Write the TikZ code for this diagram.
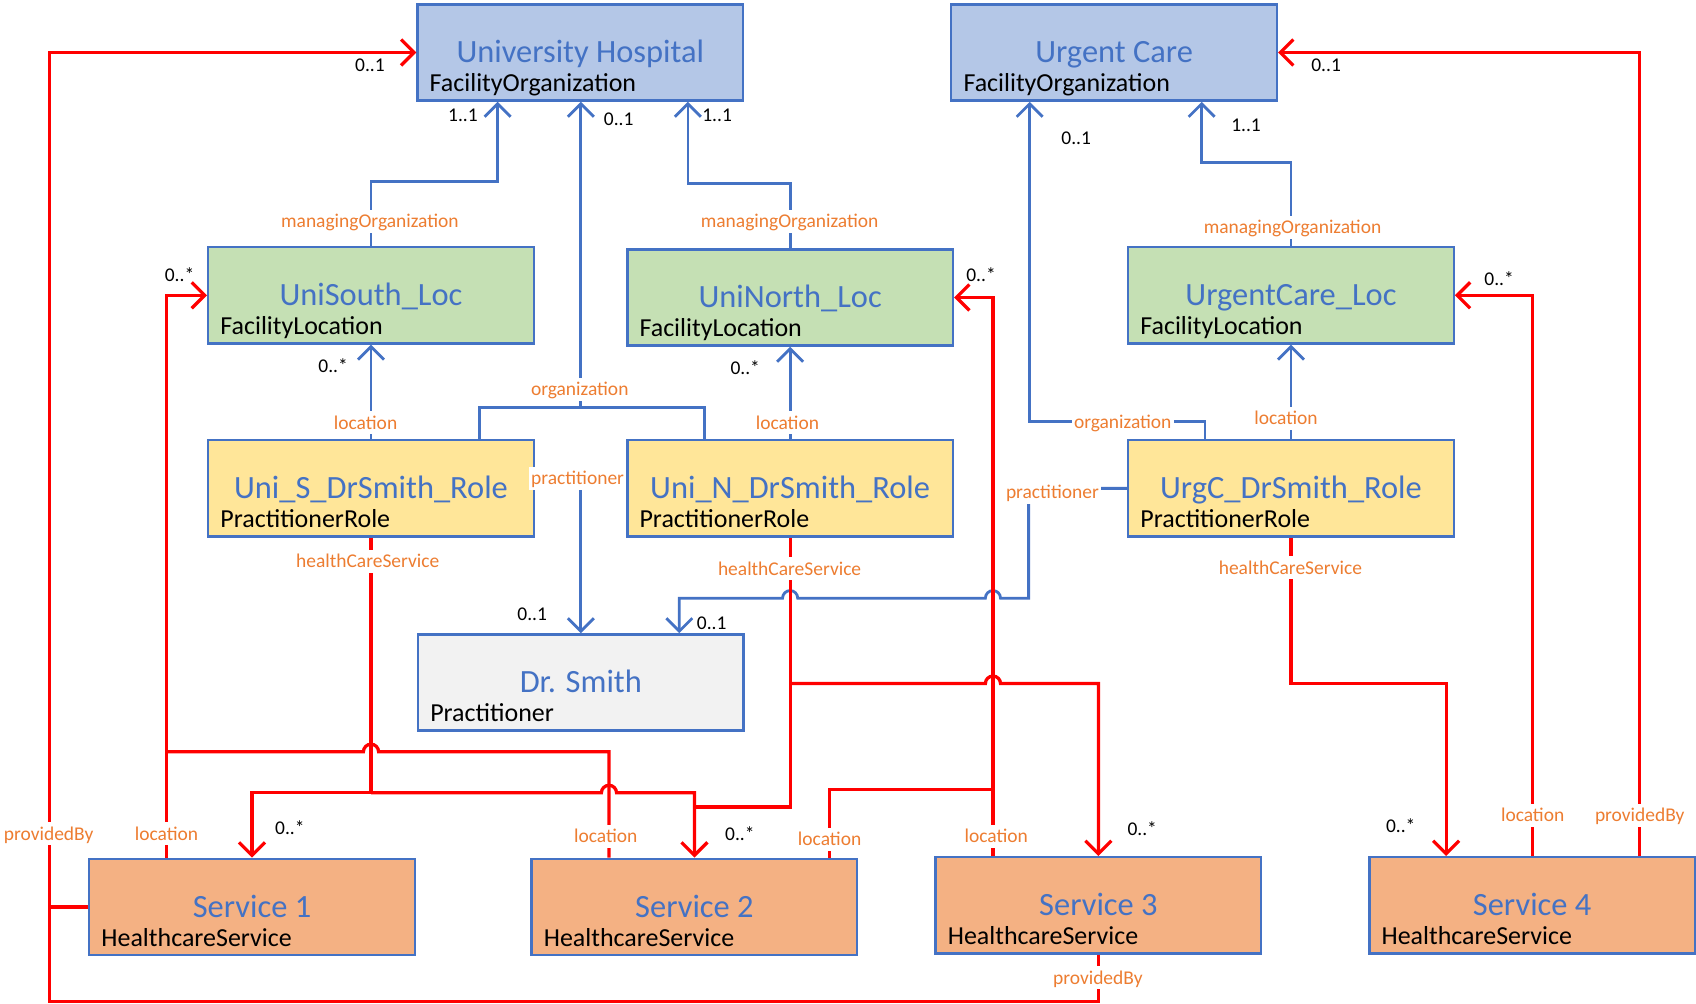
\documentclass[tikz,border=0pt]{standalone}
\usepackage{fontspec}
\setmainfont{Carlito}
\usetikzlibrary{arrows.meta}
\definecolor{cBlue}{HTML}{4472C4}
\definecolor{cOrg}{HTML}{ED7D31}
\definecolor{fOrgz}{HTML}{B4C7E7}
\definecolor{fLoc}{HTML}{C5E0B4}
\definecolor{fRole}{HTML}{FFE699}
\definecolor{fPrac}{HTML}{F2F2F2}
\definecolor{fServ}{HTML}{F4B183}
\definecolor{cRed}{HTML}{FF0000}
\newcommand{\umlbox}[5]{%
  \node[box, fill=#3] (#1) at (#2) {};
  \node[ttl] (#1-t) at ([yshift=-27.5pt]#1.north) {#4};
  \node[subt] (#1-s) at ([xshift=6pt,yshift=-41pt]#1.north west) {#5};
}
\begin{document}
\begin{tikzpicture}[x=0.5pt,y=-0.5pt,
  box/.style={draw=cBlue, line width=1.1pt, minimum width=150.5pt, minimum height=44.5pt, inner sep=0pt},
  ttl/.style={text=cBlue, font=\fontsize{15}{18}\selectfont, anchor=base, inner sep=0pt},
  subt/.style={text=black, font=\fontsize{12}{14}\selectfont, anchor=base west, inner sep=0pt},
  lbl/.style={text=cOrg, font=\fontsize{9}{10}\selectfont, fill=white, inner sep=1pt, text height=1.5ex, text depth=0.3ex},
  mult/.style={text=black, font=\fontsize{9}{10}\selectfont, inner sep=0pt},
  bconn/.style={draw=cBlue, line width=1.3pt},
  rconn/.style={draw=cRed, line width=1.5pt},
  arr/.style={-{Straight Barb[length=6pt,width=12pt]}}
]
\useasboundingbox (0,0) rectangle (1568,928);

% ---------- boxes ----------
\umlbox{uh}{536.5,48.5}{fOrgz}{University Hospital}{FacilityOrganization}
\umlbox{uc}{1030,48.5}{fOrgz}{Urgent Care}{FacilityOrganization}
\umlbox{usl}{343,273}{fLoc}{UniSouth\_Loc}{FacilityLocation}
\umlbox{unl}{730.5,275}{fLoc}{UniNorth\_Loc}{FacilityLocation}
\umlbox{ucl}{1193.5,273}{fLoc}{UrgentCare\_Loc}{FacilityLocation}
\umlbox{usr}{343,451.5}{fRole}{Uni\_S\_DrSmith\_Role}{PractitionerRole}
\umlbox{unr}{730.5,451.5}{fRole}{Uni\_N\_DrSmith\_Role}{PractitionerRole}
\umlbox{ucr}{1193.5,451.5}{fRole}{UrgC\_DrSmith\_Role}{PractitionerRole}
\umlbox{ds}{537,631}{fPrac}{Dr. Smith}{Practitioner}
\umlbox{sa}{233,838.5}{fServ}{Service 1}{HealthcareService}
\umlbox{sb}{642,838.5}{fServ}{Service 2}{HealthcareService}
\umlbox{sc}{1015.5,837}{fServ}{Service 3}{HealthcareService}
\umlbox{sd}{1416.5,837}{fServ}{Service 4}{HealthcareService}

% ---------- blue connectors ----------
\draw[bconn,arr] (usl.north) |- (460,168) -- (uh.south -| 460,0);
\draw[bconn,arr] (unl.north) |- (636,170) -- (uh.south -| 636,0);
\coordinate (orgj) at (537,377);
\draw[bconn] (usr.north -| 443,0) -- (443,377) -- (651,377) -- (unr.north -| 651,0);
\draw[bconn,arr] (orgj) -- (uh.south -| orgj);
\draw[bconn,arr] (usr.north) -- (usl.south);
\draw[bconn,arr] (unr.north) -- (unl.south);
\draw[bconn,arr] (ucr.north) -- (ucl.south);
\draw[bconn,arr] (ucl.north) |- (1111,150) -- (uc.south -| 1111,0);
\draw[bconn,arr] (ucr.north -| 1114,0) |- (952,390) -- (uc.south -| 952,0);
\draw[bconn] (usr.east) -- (unr.west);
\draw[bconn,arr] (ds.north |- usr.east) -- (ds.north);
\draw[bconn,arr] (ucr.west) -- (951,451.5) -- (951,553) -- (925,553)
   arc[start angle=0,end angle=180,radius=3.5pt] -- (737.5,553)
   arc[start angle=0,end angle=180,radius=3.5pt] -- (628,553) -- (ds.north -| 628,0);

% ---------- red connectors ----------
\draw[rconn,arr] (sa.west) -| (46,48.5) -- (uh.west);
\draw[rconn] (sc.south) |- (46,926) -- (46,838.5);
\draw[rconn,arr] (sd.north -| 1516,0) |- (uc.east);
\draw[rconn,arr] (sd.north) |- (ucl.east);
\draw[rconn,arr] (sa.north -| 154,0) |- (usl.west);
\draw[rconn] (sb.north -| 563,0) -- (563,695) -- (350,695)
   arc[start angle=0,end angle=180,radius=3.5pt] -- (154,695);
\coordinate (hcsj) at (343,733);
\draw[rconn] (usr.south) -- (hcsj);
\draw[rconn,arr] (hcsj) -| (sa.north);
\draw[rconn,arr] (hcsj) -- (556,733)
   arc[start angle=180,end angle=0,radius=3.5pt] -- (642,733) -- (sb.north);
\draw[rconn] (unr.south) -- (730.5,746) -- (642,746);
\draw[rconn,arr] (730.5,632) -- (911,632)
   arc[start angle=180,end angle=0,radius=3.5pt] -- (1015.5,632) -- (sc.north);
\draw[rconn] (sb.north -| 767,0) |- (918,730);
\draw[rconn,arr] (sc.north -| 918,0) |- (unl.east);
\draw[rconn,arr] (ucr.south) |- (1337,632) -- (sd.north -| 1337,0);

% ---------- role labels ----------
\node[lbl] (l1) at (342,205) {managingOrganization};
\node[lbl] (l2) at (730,205) {managingOrganization};
\node[lbl] (l3) at (1195,210) {managingOrganization};
\node[lbl] (l4) at (536,360) {organization};
\node[lbl] (l5) at (1038,390) {organization};
\node[lbl] (l6) at (338,391) {location};
\node[lbl] (l7) at (728,391) {location};
\node[lbl] (l8) at (1189,387) {location};
\node[lbl] (l9) at (534,442) {practitioner};
\node[lbl] (l10) at (973,455) {practitioner};
\node[lbl] (l11) at (340,519) {healthCareService};
\node[lbl] (l12) at (730,526) {healthCareService};
\node[lbl] (l13) at (1193,525) {healthCareService};
\node[lbl] (l14) at (45,771) {providedBy};
\node[lbl] (l15) at (1015,904) {providedBy};
\node[lbl] (l16) at (1516,754) {providedBy};
\node[lbl] (l17) at (154,771) {location};
\node[lbl] (l18) at (560,773) {location};
\node[lbl] (l19) at (767,776) {location};
\node[lbl] (l20) at (921,773) {location};
\node[lbl] (l21) at (1417,754) {location};

% ---------- multiplicities ----------
\node[mult] (m1) at (342,60) {0..1};
\node[mult] (m2) at (428,107) {1..1};
\node[mult] (m3) at (572,110) {0..1};
\node[mult] (m4) at (663,107) {1..1};
\node[mult] (m5) at (1226,60) {0..1};
\node[mult] (m6) at (995,128) {0..1};
\node[mult] (m7) at (1152,116) {1..1};
\node[mult] (m8) at (166,254) {0..*};
\node[mult] (m9) at (907,254) {0..*};
\node[mult] (m10) at (1386,258) {0..*};
\node[mult] (m11) at (308,338) {0..*};
\node[mult] (m12) at (689,340) {0..*};
\node[mult] (m13) at (492,568) {0..1};
\node[mult] (m14) at (658,576) {0..1};
\node[mult] (m15) at (268,765) {0..*};
\node[mult] (m16) at (684,771) {0..*};
\node[mult] (m17) at (1056,766) {0..*};
\node[mult] (m18) at (1295,763) {0..*};
\end{tikzpicture}
\end{document}
